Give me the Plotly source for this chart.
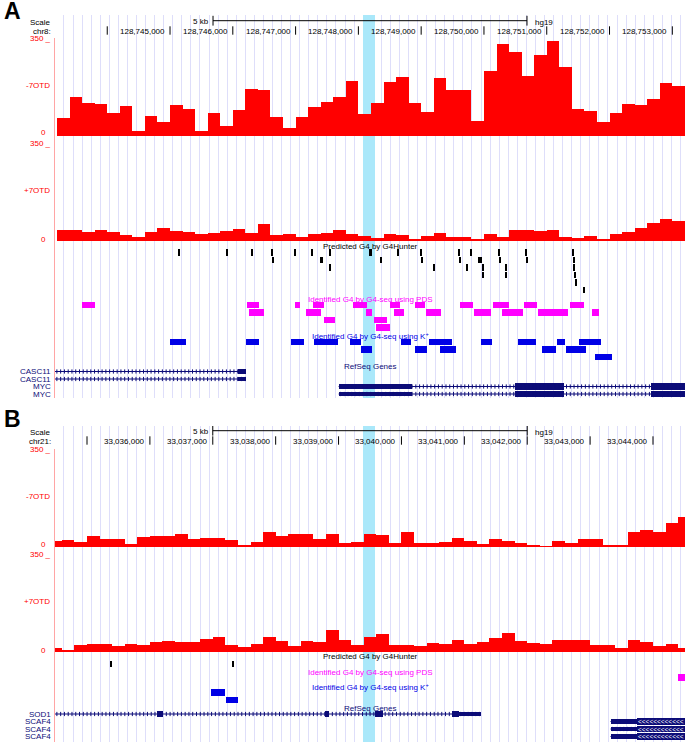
import plotly.graph_objects as go

W, H = 685, 742
X0 = 55  # left edge of the data area (px)

FONT = "Liberation Sans, Arial, Helvetica, sans-serif"
RED = "rgb(255,0,0)"
NAVY = "rgb(12,12,120)"
MAGENTA = "rgb(255,0,255)"
BLUE = "rgb(0,0,230)"
HILITE = "rgb(170,232,250)"
GRID = "rgb(222,222,250)"
AXISRED = "rgb(255,165,165)"

# ======================= Panel A : chr8 (hg19) =======================
A_chrom = "chr8:"
A_view = [128743168, 128753202]
A_ticks = [128744000, 128745000, 128746000, 128747000, 128748000,
           128749000, 128750000, 128751000, 128752000, 128753000]
A_tick_labels = ["", "128,745,000", "128,746,000", "128,747,000", "128,748,000",
                 "128,749,000", "128,750,000", "128,751,000", "128,752,000", "128,753,000"]
A_scalebar = [128745685, 128750685]
A_highlight = [128748074, 128748265]
A_grid = [128743311, 144.4]
A_bin_start = 128743200
A_bin_size = 200
A_minus7OTD = [64, 141, 121, 117, 83, 110, 19, 73, 52, 113,
               97, 19, 85, 36, 95, 171, 168, 70, 30, 68,
               105, 125, 141, 202, 79, 119, 196, 214, 119, 89,
               210, 168, 168, 56, 237, 335, 305, 219, 295, 347,
               250, 98, 91, 50, 85, 117, 113, 135, 194, 182]
A_plus7OTD = [40, 40, 33, 40, 33, 21, 14, 33, 48, 37,
              33, 26, 28, 36, 44, 28, 63, 22, 26, 16,
              26, 30, 40, 27, 19, 12, 24, 22, 6, 19,
              31, 14, 14, 6, 24, 15, 39, 39, 37, 40,
              15, 11, 19, 6, 24, 32, 48, 66, 80, 74]

A_g4h_start = [128745129, 128745890, 128746294, 128746614, 128746977, 128747251, 128747533, 128748173,
               128748616, 128748985, 128749601, 128749793, 128750229, 128750657, 128751412,
               128746627, 128747393, 128748353, 128749012, 128749608, 128749910, 128750242, 128750667, 128751423,
               128747541, 128749184, 128749716, 128749972, 128750344, 128751431,
               128749972, 128750344, 128751444,
               128751455, 128751584]
A_g4h_end = [128745149, 128745926, 128746314, 128746634, 128747013, 128747271, 128747569, 128748209,
             128748636, 128749021, 128749621, 128749813, 128750249, 128750677, 128751432,
             128746647, 128747429, 128748373, 128749032, 128749628, 128749962, 128750262, 128750703, 128751443,
             128747561, 128749220, 128749736, 128749992, 128750364, 128751451,
             128749992, 128750364, 128751464,
             128751475, 128751604]
A_g4h_row = [0] * 15 + [1] * 9 + [2] * 6 + [3] * 3 + [4, 5]

A_pds_start = [128743603, 128746226, 128746983, 128747277, 128747922, 128748511, 128748895, 128749612,
               128750144, 128750636, 128751378,
               128746258, 128747166, 128748115, 128748562, 128749073, 128749835, 128750287, 128750860, 128751720,
               128747456, 128748242,
               128748287]
A_pds_end = [128743809, 128746417, 128747070, 128747456, 128748134, 128748670, 128749054, 128749822,
             128750398, 128750846, 128751594,
             128746497, 128747405, 128748223, 128748722, 128749311, 128750110, 128750621, 128751346, 128751825,
             128747634, 128748460,
             128748499]
A_pds_row = [0] * 11 + [1] * 9 + [2] * 2 + [3]

A_k_start = [128745005, 128746207, 128746930, 128747295, 128747871, 128748683, 128749118, 128749951,
             128750545, 128751166, 128751518,
             128748049, 128748908, 128749292, 128750922, 128751312,
             128751761]
A_k_end = [128745261, 128746417, 128747135, 128747678, 128748049, 128748844, 128749491, 128750129,
           128750833, 128751293, 128751870,
           128748223, 128749099, 128749548, 128751147, 128751632,
           128752043]
A_k_row = [0] * 11 + [1] * 5 + [2]

A_gene_name = ["CASC11", "CASC11", "MYC", "MYC"]
A_gene_start = [128738000, 128738000, 128747685, 128747685]
A_gene_end = [128746210, 128746210, 128753680, 128753680]
A_gene_row = [0, 1, 2, 3]
A_exon_row = [0, 1, 2, 2, 2, 3, 3, 3]
A_exon_start = [128746083, 128746083, 128747685, 128750502, 128752659, 128747685, 128750502, 128752659]
A_exon_end = [128746210, 128746210, 128748854, 128751268, 128753680, 128748854, 128751268, 128753680]
A_exon_coding = [False, False, False, True, True, False, True, True]
A_exon_arrows = [False] * 8

# ======================= Panel B : chr21 (hg19) =======================
B_chrom = "chr21:"
B_view = [33034491, 33044509]
B_ticks = [33035000, 33036000, 33037000, 33038000, 33039000,
           33040000, 33041000, 33042000, 33043000, 33044000]
B_tick_labels = ["", "33,036,000", "33,037,000", "33,038,000", "33,039,000",
                 "33,040,000", "33,041,000", "33,042,000", "33,043,000", "33,044,000"]
B_scalebar = [33037000, 33042000]
B_highlight = [33039389, 33039580]
B_grid = [33034634, 144.2]
B_bin_start = 33034400
B_bin_size = 200
B_minus7OTD = [22, 26, 17, 40, 28, 28, 12, 37, 40, 40,
               49, 28, 32, 34, 26, 4, 17, 56, 40, 47,
               49, 28, 49, 14, 18, 47, 43, 15, 54, 14,
               16, 18, 34, 23, 10, 28, 23, 16, 7, 3,
               21, 15, 28, 28, 7, 5, 56, 62, 56, 89, 108]
B_plus7OTD = [16, 6, 25, 29, 29, 23, 29, 27, 37, 41,
              36, 38, 48, 55, 27, 18, 29, 55, 41, 22,
              41, 37, 80, 44, 27, 54, 65, 27, 25, 21,
              32, 29, 43, 29, 37, 52, 71, 41, 34, 29,
              45, 43, 45, 25, 25, 16, 45, 37, 23, 29, 13]

B_g4h_start = [33035377, 33037313]
B_g4h_end = [33035401, 33037337]
B_g4h_row = [0, 0]
B_pds_start = [33044391]
B_pds_end = [33044600]
B_pds_row = [0]
B_k_start = [33036976, 33037214]
B_k_end = [33037199, 33037394]
B_k_row = [0, 1]

B_gene_name = ["SOD1", "SCAF4", "SCAF4", "SCAF4"]
B_gene_start = [33031935, 33043325, 33043325, 33043325]
B_gene_end = [33041258, 33105000, 33105000, 33105000]
B_gene_row = [0, 1, 2, 3]
B_exon_row = [0, 0, 0, 0, 0, 1, 1, 2, 2, 3, 3]
B_exon_start = [33036106, 33038777, 33039586, 33040798, 33040909,
                33043325, 33043742, 33043325, 33043742, 33043325, 33043742]
B_exon_end = [33036211, 33038849, 33039706, 33040909, 33041258,
              33043742, 33045000, 33043742, 33045000, 33043742, 33045000]
B_exon_coding = [True, True, True, True, False, False, True, False, True, False, True]
B_exon_arrows = [False] * 5 + [False, True, False, True, False, True]

# ======================= Layout positions (px) =======================
LA = dict(top=15, bottom=398, t1=(38, 136), t1_350=40, t2=(136, 241), t2_350=146, feat=(241, 398),
          ruler_y=20.7, scale_y=22.5, pos_y=31.5, tick_y=30.5,
          lab350_1=38.5, name1=85, zero1=133, lab350_2=143.5, name2=190, zero2=239,
          g4h_label=246.5, g4h_row0=252.5, pds_label=299, pds_row0=305,
          k_label=336.5, k_row0=342, ref_label=366, gene_row0=371.5, letter_y=10.5)
LB = dict(top=426, bottom=742, t1=(449, 547), t1_350=451, t2=(547, 652), t2_350=557, feat=(652, 742),
          ruler_y=430.7, scale_y=432.5, pos_y=441.5, tick_y=440.5,
          lab350_1=449.5, name1=496, zero1=544, lab350_2=554.5, name2=601, zero2=650,
          g4h_label=656.7, g4h_row0=664, pds_label=672.3, pds_row0=677.7,
          k_label=686.7, k_row0=692.3, ref_label=708.3, gene_row0=714, letter_y=418.5)
ROW = 7.5


def P(py):
    return 1.0 - py / H


def xname(i):
    return "x" if i == 1 else f"x{i}"


def yname(i):
    return "y" if i == 1 else f"y{i}"


fig = go.Figure()
ann = []
axes = {}


def add_axes(i, view, ypx, yrange, grid=None, yline=False):
    xa = dict(domain=[X0 / W, 1.0], range=view, anchor=yname(i), fixedrange=True,
              showticklabels=False, ticks="", zeroline=False, showline=False, showgrid=False)
    if grid:
        xa.update(showgrid=True, gridcolor=GRID, gridwidth=1, tick0=grid[0], dtick=grid[1])
    ya = dict(domain=[P(ypx[1]), P(ypx[0])], range=yrange, anchor=xname(i), fixedrange=True,
              showticklabels=False, ticks="", zeroline=False, showgrid=False,
              showline=yline, linecolor=AXISRED, linewidth=1)
    axes["xaxis" if i == 1 else f"xaxis{i}"] = xa
    axes["yaxis" if i == 1 else f"yaxis{i}"] = ya


def left_label(text, py, color, xr=53):
    ann.append(dict(x=xr / W, y=P(py), xref="paper", yref="paper", text=text, showarrow=False,
                    xanchor="right", yanchor="middle", font=dict(size=8, color=color, family=FONT)))


def center_label(text, py, color):
    ann.append(dict(x=(X0 + W) / 2 / W, y=P(py), xref="paper", yref="paper", text=text, showarrow=False,
                    xanchor="center", yanchor="middle", font=dict(size=8, color=color, family=FONT)))


def feat_bars(i, starts, ends, rows, row0, height, color):
    fig.add_trace(go.Bar(orientation="h", base=starts, x=[e - s for s, e in zip(starts, ends)],
                         y=[row0 + ROW * r for r in rows], width=[height] * len(starts),
                         marker=dict(color=color, line=dict(width=0)),
                         xaxis=xname(i), yaxis=yname(i), hoverinfo="skip"))


def panel(i0, letter, chrom, view, ticks, tick_labels, scalebar, highlight, grid,
          bin_start, bin_size, minus, plus,
          g4h, pds, kp, genes, exons, L):
    bg, hd, t1, t2, ft = range(i0, i0 + 5)
    add_axes(bg, view, (L["top"], L["bottom"]), [0, 1], grid=grid)
    add_axes(hd, view, (L["top"], L["t1"][0]), [L["t1"][0], L["top"]])
    r1 = 350 * (L["t1"][1] - L["t1"][0]) / (L["t1"][1] - L["t1_350"])
    add_axes(t1, view, L["t1"], [0, r1], yline=True)
    r2 = 350 * (L["t2"][1] - L["t2"][0]) / (L["t2"][1] - L["t2_350"])
    add_axes(t2, view, L["t2"], [0, r2], yline=True)
    add_axes(ft, view, L["feat"], [L["feat"][1], L["feat"][0]], yline=True)

    # highlight band
    fig.add_trace(go.Bar(x=[(highlight[0] + highlight[1]) / 2], y=[1], width=[highlight[1] - highlight[0]],
                         marker=dict(color=HILITE, line=dict(width=0)),
                         xaxis=xname(bg), yaxis=yname(bg), hoverinfo="skip"))

    # ruler: scale bar + position ticks
    fig.add_trace(go.Scatter(x=scalebar, y=[L["ruler_y"]] * 2, mode="lines+markers",
                             line=dict(color="black", width=1),
                             marker=dict(symbol="line-ns", size=7, color="black",
                                         line=dict(width=1, color="black")),
                             xaxis=xname(hd), yaxis=yname(hd), hoverinfo="skip"))
    fig.add_trace(go.Scatter(x=ticks, y=[L["tick_y"]] * len(ticks), mode="markers",
                             marker=dict(symbol="line-ns", size=6, color="black",
                                         line=dict(width=1, color="black")),
                             xaxis=xname(hd), yaxis=yname(hd), hoverinfo="skip"))
    for t, lab in zip(ticks, tick_labels):
        if lab:
            ann.append(dict(x=t, y=L["pos_y"], xref=xname(hd), yref=yname(hd), text=lab, showarrow=False,
                            xanchor="right", yanchor="middle", xshift=-3,
                            font=dict(size=8, color="black", family=FONT)))
    ann.append(dict(x=scalebar[0], y=L["ruler_y"] + 0.8, xref=xname(hd), yref=yname(hd), text="5 kb",
                    showarrow=False, xanchor="right", yanchor="middle", xshift=-2,
                    font=dict(size=8, color="black", family=FONT)))
    ann.append(dict(x=scalebar[1], y=L["ruler_y"] + 2, xref=xname(hd), yref=yname(hd), text="hg19",
                    showarrow=False, xanchor="left", yanchor="middle", xshift=6,
                    font=dict(size=8, color="black", family=FONT)))

    # signal tracks
    centers = [bin_start + bin_size * (k + 0.5) for k in range(len(minus))]
    fig.add_trace(go.Bar(x=centers, y=minus, width=bin_size, marker=dict(color=RED, line=dict(width=0)),
                         xaxis=xname(t1), yaxis=yname(t1), hoverinfo="skip"))
    centers2 = [bin_start + bin_size * (k + 0.5) for k in range(len(plus))]
    fig.add_trace(go.Bar(x=centers2, y=plus, width=bin_size, marker=dict(color=RED, line=dict(width=0)),
                         xaxis=xname(t2), yaxis=yname(t2), hoverinfo="skip"))

    # feature tracks
    feat_bars(ft, *g4h, L["g4h_row0"], 6.5, "black")
    feat_bars(ft, *pds, L["pds_row0"], 6.5, MAGENTA)
    feat_bars(ft, *kp, L["k_row0"], 6.5, BLUE)

    # genes
    names, gs, ge, grow = genes
    span_px = (W - X0) / (view[1] - view[0])
    for name, s, e, r in zip(names, gs, ge, grow):
        y = L["gene_row0"] + ROW * r
        fig.add_trace(go.Scatter(x=[s, e], y=[y, y], mode="lines", line=dict(color=NAVY, width=1),
                                 xaxis=xname(ft), yaxis=yname(ft), hoverinfo="skip"))
        lo, hi = max(s, view[0]), min(e, view[1])
        marks = list(range(int(lo) + 30, int(hi), 60))
        fig.add_trace(go.Scatter(x=marks, y=[y] * len(marks), mode="markers",
                                 marker=dict(symbol="line-ns", size=3, color=NAVY,
                                             line=dict(width=1, color=NAVY)),
                                 xaxis=xname(ft), yaxis=yname(ft), hoverinfo="skip"))
        left_label(name, y, NAVY)
    erow, es, ee, ecds, earr = exons
    fig.add_trace(go.Bar(orientation="h", base=es, x=[b - a for a, b in zip(es, ee)],
                         y=[L["gene_row0"] + ROW * r for r in erow],
                         width=[6.5 if c else 4.5 for c in ecds],
                         marker=dict(color=NAVY, line=dict(width=0)),
                         xaxis=xname(ft), yaxis=yname(ft), hoverinfo="skip"))
    for r, a, b, flag in zip(erow, es, ee, earr):
        if flag:
            lo, hi = max(a, view[0]), min(b, view[1])
            n = int((hi - lo) * span_px / 3.8)
            ann.append(dict(x=(lo + hi) / 2, y=L["gene_row0"] + ROW * r, xref=xname(ft), yref=yname(ft),
                            text="&lt;" * n, showarrow=False, xanchor="center", yanchor="middle",
                            font=dict(size=6.5, color="white", family=FONT)))

    # left labels
    left_label("Scale", L["scale_y"], "black")
    left_label(chrom, L["pos_y"], "black")
    left_label("350 _", L["lab350_1"], RED)
    left_label("-7OTD", L["name1"], RED, 52)
    left_label("0", L["zero1"], RED, 47.5)
    left_label("350 _", L["lab350_2"], RED)
    left_label("+7OTD", L["name2"], RED, 52)
    left_label("0", L["zero2"], RED, 47.5)

    # track titles
    center_label("Predicted G4 by G4Hunter", L["g4h_label"], "black")
    center_label("Identified G4 by G4-seq using PDS", L["pds_label"], MAGENTA)
    center_label("Identified G4 by G4-seq using K<sup>+</sup>", L["k_label"], BLUE)
    center_label("RefSeq Genes", L["ref_label"], NAVY)

    # panel letter
    ann.append(dict(x=2 / W, y=P(L["letter_y"]), xref="paper", yref="paper", text=f"<b>{letter}</b>",
                    showarrow=False, xanchor="left", yanchor="middle",
                    font=dict(size=23, color="black", family=FONT)))


panel(1, "A", A_chrom, A_view, A_ticks, A_tick_labels, A_scalebar, A_highlight, A_grid,
      A_bin_start, A_bin_size, A_minus7OTD, A_plus7OTD,
      (A_g4h_start, A_g4h_end, A_g4h_row), (A_pds_start, A_pds_end, A_pds_row),
      (A_k_start, A_k_end, A_k_row),
      (A_gene_name, A_gene_start, A_gene_end, A_gene_row),
      (A_exon_row, A_exon_start, A_exon_end, A_exon_coding, A_exon_arrows), LA)
panel(6, "B", B_chrom, B_view, B_ticks, B_tick_labels, B_scalebar, B_highlight, B_grid,
      B_bin_start, B_bin_size, B_minus7OTD, B_plus7OTD,
      (B_g4h_start, B_g4h_end, B_g4h_row), (B_pds_start, B_pds_end, B_pds_row),
      (B_k_start, B_k_end, B_k_row),
      (B_gene_name, B_gene_start, B_gene_end, B_gene_row),
      (B_exon_row, B_exon_start, B_exon_end, B_exon_coding, B_exon_arrows), LB)

fig.update_layout(width=W, height=H, autosize=False, margin=dict(l=0, r=0, t=0, b=0),
                  paper_bgcolor="white", plot_bgcolor="rgba(0,0,0,0)", showlegend=False,
                  barmode="overlay", bargap=0, font=dict(family=FONT, size=8),
                  annotations=ann, **axes)

fig.write_html("out.html", config={"displayModeBar": False},
               post_script="document.body.style.margin='0px';document.body.style.overflow='hidden';")
